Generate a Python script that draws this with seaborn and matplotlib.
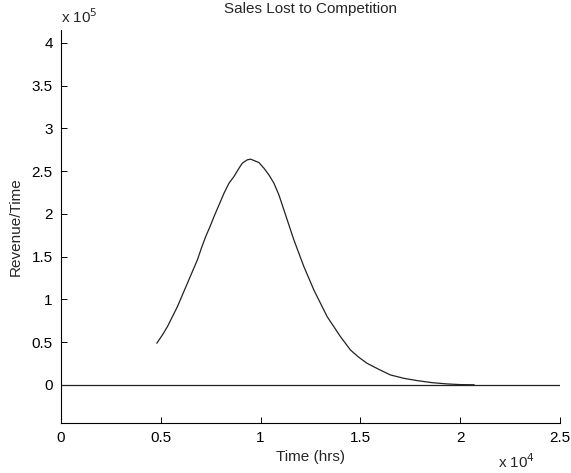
import matplotlib
matplotlib.use("Agg")
import matplotlib.pyplot as plt
import seaborn as sns
import pandas as pd

# Data (time in hrs, revenue/time)
time_hrs = [4800, 5083, 5333, 5583, 5833, 6083, 6333, 6583, 6833, 7033, 7250,
            7467, 7667, 7917, 8167, 8417, 8667, 8867, 9083, 9333, 9500,
            9917, 10167, 10417, 10667, 10917, 11167, 11417, 11667, 11917,
            12167, 12417, 12667, 13000, 13333, 13667, 14000, 14500, 14917,
            15333, 15917, 16500, 17167, 17833, 18583, 19333, 20000, 20700]
revenue = [0.488e5, 0.585e5, 0.682e5, 0.799e5, 0.916e5, 1.053e5, 1.189e5, 1.326e5, 1.462e5,
           1.599e5, 1.735e5, 1.852e5, 1.969e5, 2.105e5, 2.242e5, 2.359e5, 2.437e5, 2.515e5,
           2.593e5, 2.632e5, 2.640e5, 2.600e5, 2.534e5, 2.456e5, 2.359e5, 2.222e5, 2.047e5,
           1.871e5, 1.696e5, 1.540e5, 1.384e5, 1.248e5, 1.111e5, 0.955e5, 0.799e5, 0.682e5,
           0.565e5, 0.409e5, 0.324e5, 0.253e5, 0.183e5, 0.117e5, 0.078e5, 0.051e5, 0.027e5,
           0.012e5, 0.004e5, 0.002e5]
zero_x = [0, 25000]
zero_y = [0, 0]

x_ticks = [0, 5000, 10000, 15000, 20000, 25000]
x_tick_labels = ["0", "0.5", "1", "1.5", "2", "2.5"]
y_ticks = [0, 0.5e5, 1e5, 1.5e5, 2e5, 2.5e5, 3e5, 3.5e5, 4e5]
y_tick_labels = ["0", "0.5", "1", "1.5", "2", "2.5", "3", "3.5", "4"]

sns.set_theme(style="ticks")
plt.rcParams['font.family'] = ['Liberation Sans', 'DejaVu Sans']

fig = plt.figure(figsize=(5.71, 4.73), dpi=100)
ax = fig.add_axes([61/571, 50/473, (560-61)/571, (423-30)/473])

df = pd.DataFrame({"t": time_hrs, "r": revenue})
zdf = pd.DataFrame({"t": zero_x, "r": zero_y})
sns.lineplot(data=zdf, x="t", y="r", ax=ax, color="#222222", linewidth=0.9)
sns.lineplot(data=df, x="t", y="r", ax=ax, color="#222222", linewidth=0.9)

ax.set_xlim(0, 25000)
ax.set_ylim(-0.445e5, 4.15e5)
ax.set_xticks(x_ticks)
ax.set_xticklabels(x_tick_labels)
ax.set_yticks(y_ticks)
ax.set_yticklabels(y_tick_labels)
ax.tick_params(direction="in", length=4, width=0.7, labelsize=11, colors="black", pad=6)
for s in ["top", "right"]:
    ax.spines[s].set_visible(False)
for s in ["left", "bottom"]:
    ax.spines[s].set_linewidth(0.8)
    ax.spines[s].set_color("black")

ax.set_xlabel("Time (hrs)", fontsize=11, labelpad=3)
ax.set_ylabel("Revenue/Time", fontsize=11, labelpad=6)
ax.set_title("Sales Lost to Competition", fontsize=11, pad=12)
fig.text(61/571, 1 - 17/473, r"x 10$^{5}$", fontsize=11, ha="left", va="center")
fig.text(535/571, 1 - 462/473, r"x 10$^{4}$", fontsize=11, ha="right", va="center")

fig.savefig("out.png", dpi=100, facecolor="white")
